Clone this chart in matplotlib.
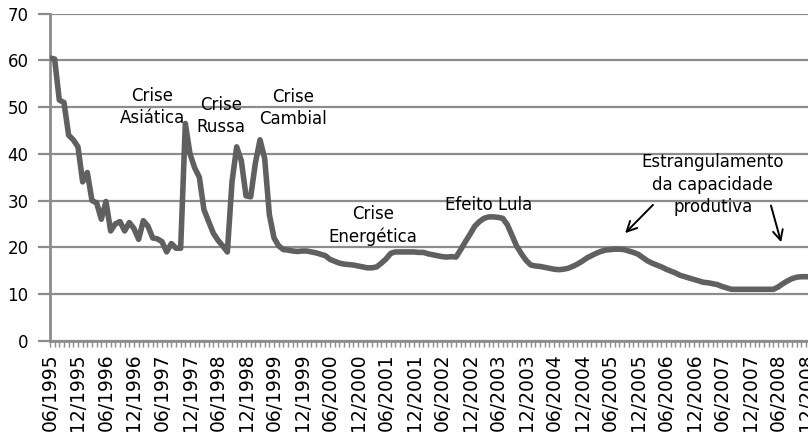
import matplotlib
matplotlib.use('Agg')
import matplotlib.pyplot as plt

# monthly values, starting 06/1995
values = [
    60.5, 60.3, 51.5, 51.0, 44.0, 43.0, 41.5, 34.0, 36.0, 30.0,   # 06/1995 - 03/1996
    29.5, 26.0, 29.8, 23.5, 25.0, 25.5, 23.5, 25.3, 24.0, 21.7,   # 04/1996 - 01/1997
    25.7, 24.5, 22.0, 21.8, 21.2, 19.0, 20.8, 19.8, 19.8, 46.5,   # 02/1997 - 11/1997
    40.0, 37.0, 35.0, 28.0, 25.5, 23.0, 21.5, 20.3, 19.0, 34.0,   # 12/1997 - 09/1998
    41.5, 38.5, 31.0, 30.8, 38.0, 43.0, 39.0, 27.0, 22.0, 20.3,   # 10/1998 - 07/1999
    19.5, 19.4, 19.2, 19.1, 19.2, 19.2, 19.0, 18.8, 18.5, 18.2,   # 08/1999 - 05/2000
    17.4, 17.0, 16.6, 16.4, 16.3, 16.2, 16.0, 15.8, 15.6, 15.6,   # 06/2000 - 03/2001
    15.8, 16.6, 17.5, 18.7, 19.0, 19.0, 19.0, 19.0, 19.0, 18.9,   # 04/2001 - 01/2002
    18.9, 18.6, 18.4, 18.2, 18.0, 17.9, 18.0, 17.9, 19.5, 21.2,   # 02/2002 - 11/2002
    22.8, 24.5, 25.5, 26.2, 26.5, 26.5, 26.4, 26.2, 24.8, 22.5,   # 12/2002 - 09/2003
    20.2, 18.6, 17.2, 16.2, 16.0, 15.9, 15.7, 15.5, 15.3, 15.2,   # 10/2003 - 07/2004
    15.3, 15.5, 15.9, 16.4, 17.0, 17.7, 18.2, 18.7, 19.1, 19.4,   # 08/2004 - 05/2005
    19.5, 19.6, 19.6, 19.5, 19.2, 18.9, 18.5, 17.8, 17.1, 16.6,   # 06/2005 - 03/2006
    16.2, 15.8, 15.3, 14.9, 14.5, 14.0, 13.7, 13.4, 13.1, 12.8,   # 04/2006 - 01/2007
    12.5, 12.4, 12.2, 12.0, 11.6, 11.3, 11.0, 11.0, 11.0, 11.0,   # 02/2007 - 11/2007
    11.0, 11.0, 11.0, 11.0, 11.0, 11.0, 11.5, 12.2, 12.8, 13.3,   # 12/2007 - 09/2008
    13.6, 13.7, 13.7, 13.7,                                       # 10/2008 - 01/2009
]

tick_labels = [
    '06/1995', '12/1995', '06/1996', '12/1996', '06/1997', '12/1997',
    '06/1998', '12/1998', '06/1999', '12/1999', '06/2000', '12/2000',
    '06/2001', '12/2001', '06/2002', '12/2002', '06/2003', '12/2003',
    '06/2004', '12/2004', '06/2005', '12/2005', '06/2006', '12/2006',
    '06/2007', '12/2007', '06/2008', '12/2008',
]

# annotations: (text, month index, value)
notes = [
    ('Crise\nAsiática', 21.9, 50.0),
    ('Crise\nRussa', 36.6, 48.1),
    ('Crise\nCambial', 52.0, 49.8),
    ('Crise\nEnergética', 69.2, 24.6),
    ('Efeito Lula', 94.0, 29.1),
    ('Estrangulamento\nda capacidade\nprodutiva', 142.0, 33.4),
]
# arrows: (tail month, tail value, head month, head value)
arrows = [
    (129.6, 29.5, 122.8, 22.6),
    (154.3, 29.5, 156.8, 20.5),
]

GRID = '#8c8c8c'
LINE = '#606060'

fig = plt.figure(figsize=(8.08, 4.43), dpi=100)
ax = fig.add_axes([49.5 / 808, 102.3 / 443, 794 / 808, 327 / 443])

months = list(range(len(values)))
ax.plot(months, values, color=LINE, lw=4, solid_joinstyle='round', zorder=3)

ax.set_xlim(-0.1, 170)
ax.set_ylim(0, 70)
ax.set_yticks(range(0, 71, 10))
ax.yaxis.grid(True, color=GRID, lw=1.6)
ax.set_axisbelow(True)

ax.set_xticks(range(0, 6 * len(tick_labels), 6))
ax.set_xticklabels(tick_labels, rotation=90, fontsize=13.5)
ax.set_xticks(months, minor=True)

for s in ['top', 'right']:
    ax.spines[s].set_visible(False)
for s in ['left', 'bottom']:
    ax.spines[s].set_color(GRID)
    ax.spines[s].set_linewidth(2)

ax.tick_params(axis='y', length=9, width=1.6, color=GRID, pad=6, labelsize=12)
ax.tick_params(axis='x', which='both', length=4, width=1, color=GRID, pad=5)

for text, mx, my in notes:
    ax.text(mx, my, text, ha='center', va='center', fontsize=12,
            linespacing=1.3, zorder=4)

for x0, y0, x1, y1 in arrows:
    ax.annotate('', xy=(x1, y1), xytext=(x0, y0),
                arrowprops=dict(arrowstyle='->', color='black', lw=1.4,
                                mutation_scale=18))

fig.savefig('out.png', dpi=100)
